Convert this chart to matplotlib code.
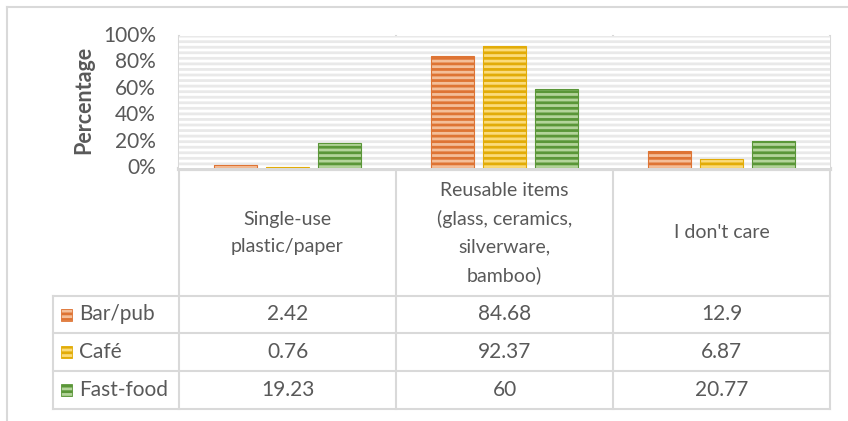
import matplotlib
matplotlib.use("Agg")
import matplotlib.pyplot as plt
from matplotlib.patches import Rectangle
from matplotlib.lines import Line2D

plt.rcParams['font.family'] = ['Lato', 'DejaVu Sans']
plt.rcParams['hatch.linewidth'] = 2.0

# ---- data ----
categories = ["Single-use\nplastic/paper",
              "Reusable items\n(glass, ceramics,\nsilverware,\nbamboo)",
              "I don't care"]
series_names = ["Bar/pub", "Café", "Fast-food"]
bar_pub = [2.42, 84.68, 12.9]
cafe = [0.76, 92.37, 6.87]
fast_food = [19.23, 60, 20.77]
y_ticks = [0, 20, 40, 60, 80, 100]

series_values = [bar_pub, cafe, fast_food]
face_colors = ["#F4BE98", "#FBDB7A", "#B3D49A"]
stripe_colors = ["#DE7434", "#E2AC08", "#5A9638"]

W, H = 848, 421
TXT = "#595959"
GRID = "#D9D9D9"

fig = plt.figure(figsize=(W / 100, H / 100), dpi=100)

# overlay axes in pixel coords (y downward)
bg = fig.add_axes([0, 0, 1, 1])
bg.set_xlim(0, W)
bg.set_ylim(H, 0)
bg.axis('off')

# plot area (pixels)
px0, px1, py0, py1 = 179, 830, 36, 168
ax = fig.add_axes([px0 / W, 1 - py1 / H, (px1 - px0) / W, (py1 - py0) / H])
ax.set_xlim(-0.5, 2.5)
ax.set_ylim(0, 100)
for s in ax.spines.values():
    s.set_visible(False)
ax.set_xticks([])
ax.set_yticks([])
ax.patch.set_facecolor('white')
ax.add_patch(Rectangle((0, 0), 1, 1, transform=ax.transAxes, facecolor='white',
                       edgecolor='#E9E9E9', hatch='---', linewidth=0, zorder=0))

n = len(series_names)
bw = 43 / 217.0
offs = [-52 / 217.0, 0, 52 / 217.0]
for i in range(n):
    xs = [c + offs[i] for c in range(len(categories))]
    ax.bar(xs, series_values[i], width=bw, color=face_colors[i],
           edgecolor=stripe_colors[i], hatch='---', linewidth=0, zorder=2)
    ax.bar(xs, series_values[i], width=bw, fill=False,
           edgecolor=stripe_colors[i], linewidth=0.8, zorder=3)

# y tick labels
for t in y_ticks:
    yp = py1 - (py1 - py0) * t / 100
    bg.text(156, yp, f"{t}%", ha='right', va='center', fontsize=15, color=TXT)
bg.text(84, (py0 + py1) / 2 - 2, "Percentage", rotation=90, ha='center', va='center',
        fontsize=15.5, fontweight='bold', color=TXT)

# outer frame
bg.add_line(Line2D([7, 7], [7, H], color=GRID, lw=1.5))
bg.add_line(Line2D([7, W], [7, 7], color=GRID, lw=1.5))

# table lines
col_x = [179, 396, 613, 830]
row_y = [296, 333, 371, 409]
for x in col_x:
    bg.add_line(Line2D([x, x], [py0, 409], color=GRID, lw=1.5))
bg.add_line(Line2D([px0, px1], [py1 + 1, py1 + 1], color=GRID, lw=3))
for y in row_y:
    bg.add_line(Line2D([53, 830], [y, y], color=GRID, lw=1.5))
bg.add_line(Line2D([53, 53], [296, 409], color=GRID, lw=1.5))

# category labels
for j, cat in enumerate(categories):
    cx = (col_x[j] + col_x[j + 1]) / 2
    bg.text(cx, 233, cat, ha='center', va='center', fontsize=14, color=TXT,
            linespacing=1.75)

# data rows
for i in range(n):
    cy = (row_y[i] + row_y[i + 1]) / 2
    bg.add_patch(Rectangle((61, cy - 6), 11, 12, facecolor=face_colors[i],
                           edgecolor=stripe_colors[i], hatch='---', linewidth=0.6))
    bg.text(79, cy, series_names[i], ha='left', va='center', fontsize=15,
            color=TXT)
    for j in range(len(categories)):
        cx = (col_x[j] + col_x[j + 1]) / 2
        bg.text(cx, cy, f"{series_values[i][j]:g}", ha='center', va='center',
                fontsize=15, color=TXT)

fig.savefig("out.png", dpi=100)
